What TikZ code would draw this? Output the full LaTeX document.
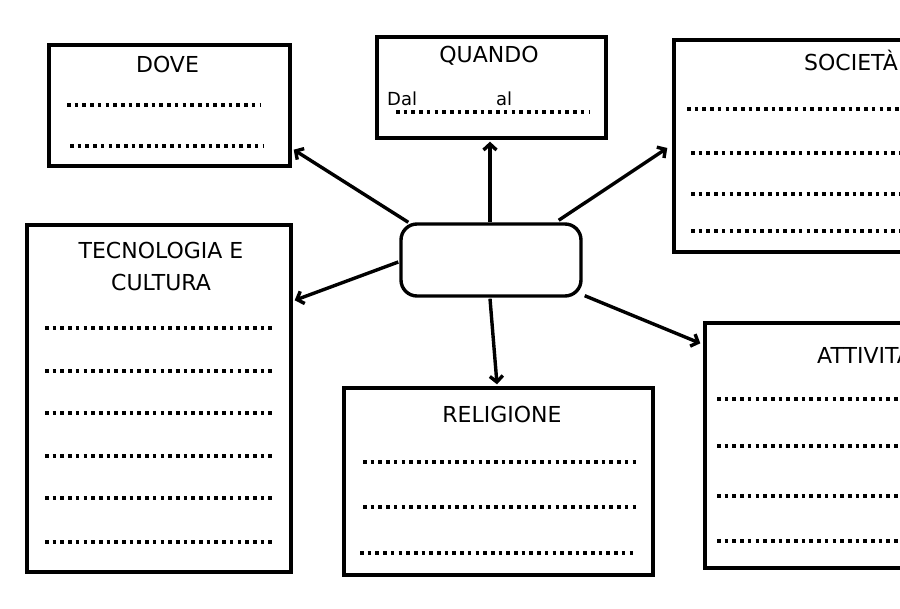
\documentclass[tikz,border=0pt]{standalone}
\usepackage{fontspec}
\setmainfont{DejaVu Sans}
\usetikzlibrary{arrows.meta,calc}
\begin{document}
\begin{tikzpicture}[x=1pt,y=-1pt,
 box/.style={draw,line width=3.4pt,inner sep=0pt,fill=white},
 ttl/.style={font=\fontsize{22}{32}\selectfont,inner sep=0pt,anchor=base},
 small/.style={font=\fontsize{18}{22}\selectfont,inner sep=0pt,anchor=base west},
 dots/.style={line width=3.6pt,dash pattern=on 3.6pt off 4.1pt},
 conn/.style={line width=3.4pt,-{Straight Barb[length=6pt,width=13pt]}}]
\useasboundingbox (0,0) rectangle (900,609);
\clip (0,0) rectangle (900,609);
\fill[white] (0,0) rectangle (900,609);
% boxes
\node[box,minimum width=241pt,minimum height=121pt] (dove) at (169.5,105.5) {};
\node[box,minimum width=229pt,minimum height=101pt] (quando) at (491.5,87.5) {};
\node[box,minimum width=326pt,minimum height=212pt] (soc) at (837,146) {};
\node[box,minimum width=180pt,minimum height=72pt,rounded corners=16pt] (c) at (491,260) {};
\node[box,minimum width=264pt,minimum height=347pt] (tec) at (159,398.5) {};
\node[box,minimum width=309pt,minimum height=187pt] (rel) at (498.5,481.5) {};
\node[box,minimum width=295pt,minimum height=245pt] (att) at (852.5,445.5) {};
% titles
\node[ttl] (tdove) at (167.5,73) {DOVE};
\node[ttl] (tquando) at (489,63) {QUANDO};
\node[ttl,anchor=base west] (tsoc) at (804,71) {SOCIETÀ};
\node[ttl] (ttec1) at (161,259) {TECNOLOGIA E};
\node[ttl] (ttec2) at (161,291) {CULTURA};
\node[ttl] (trel) at (502,423) {RELIGIONE};
\node[ttl,anchor=base west] (tatt) at (817,364) {ATTIVITÀ};
\node[small] (dal) at (387,106) {Dal};
\node[small] (al) at (496,106) {al};
% dotted lines
\draw[dots] (67,105) -- (260,105);
\draw[dots] (70,146) -- (263,146);
\draw[dots] (396,112) -- (590,112);
\draw[dots] (687,109) -- (910,109);
\foreach \y in {153,194,231} \draw[dots] (691,\y) -- (910,\y);
\foreach \y in {328,371,413,456,498,542} \draw[dots] (45,\y) -- (273,\y);
\draw[dots] (363,462) -- (639,462);
\draw[dots] (363,507) -- (639,507);
\draw[dots] (360,553) -- (636,553);
\foreach \y in {399,446,496,541} \draw[dots] (717,\y) -- (910,\y);
% connectors
\draw[conn] ($(c.north west)+(9,0)$) -- ($(dove.south east)+(2,-18)$);
\draw[conn] ($(c.north)+(-1,0)$) -- ($(quando.south)+(-1.5,2)$);
\draw[conn] ($(c.north east)+(-24,-2)$) -- ($(soc.west)+(-5,2)$);
\draw[conn] ($(c.west)+(-1,2)$) -- ($(tec.north east)+(2,77)$);
\draw[conn] ($(c.south)+(-1,1)$) -- ($(rel.north)+(-1.5,-2)$);
\draw[conn] ($(c.south east)+(2,-2)$) -- ($(att.north west)+(-3,22)$);
\end{tikzpicture}
\end{document}
